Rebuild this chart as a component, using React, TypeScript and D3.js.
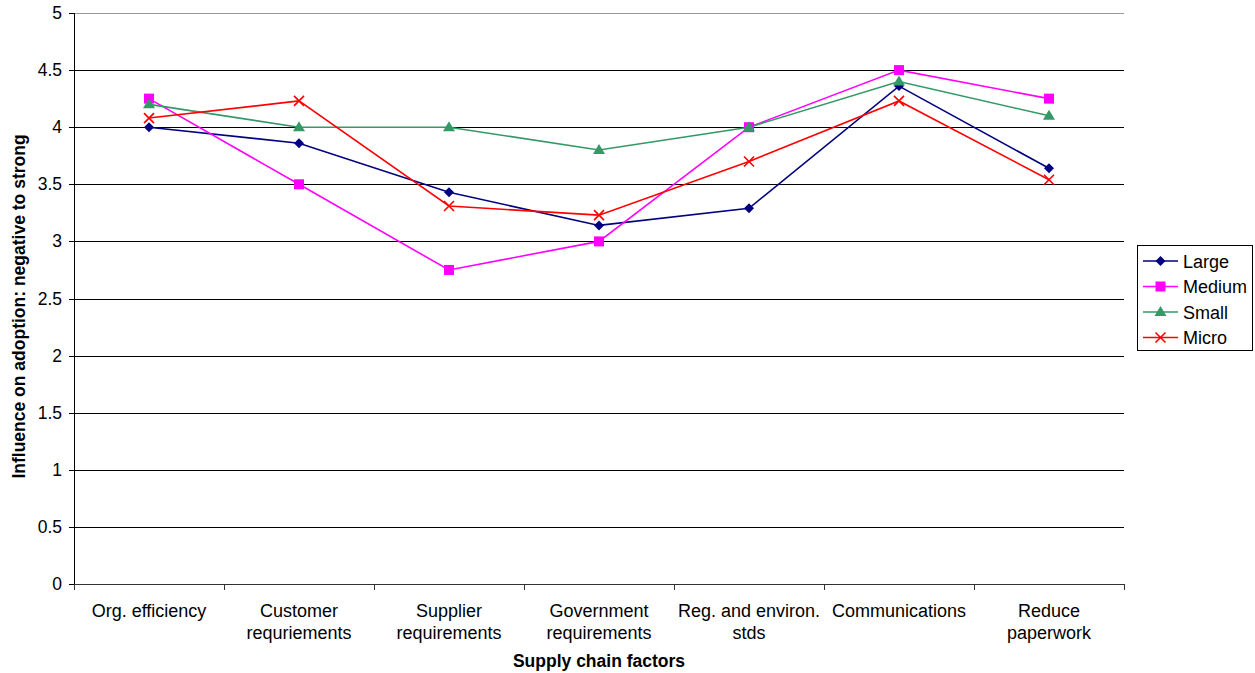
import React from "react";
import * as d3 from "d3";

const categories = [
  ["Org. efficiency"],
  ["Customer", "requriements"],
  ["Supplier", "requirements"],
  ["Government", "requirements"],
  ["Reg. and environ.", "stds"],
  ["Communications"],
  ["Reduce", "paperwork"],
];
const large = [4.0, 3.86, 3.43, 3.14, 3.29, 4.36, 3.64];
const medium = [4.25, 3.5, 2.75, 3.0, 4.0, 4.5, 4.25];
const small = [4.2, 4.0, 4.0, 3.8, 4.0, 4.4, 4.1];
const micro = [4.08, 4.23, 3.31, 3.23, 3.7, 4.23, 3.54];
const yTicks = [0, 0.5, 1, 1.5, 2, 2.5, 3, 3.5, 4, 4.5, 5];
const seriesNames = ["Large", "Medium", "Small", "Micro"];

const colors = ["#000080", "#FF00FF", "#339966", "#FF0000"];
const font = "Liberation Sans, Arial, sans-serif";

function Marker({ kind, x, y, color }: { kind: number; x: number; y: number; color: string }) {
  if (kind === 0) {
    const s = 5;
    return <path d={`M${x},${y - s}L${x + s},${y}L${x},${y + s}L${x - s},${y}Z`} fill={color} />;
  }
  if (kind === 1) {
    return <rect x={x - 5} y={y - 5} width={10} height={10} fill={color} />;
  }
  if (kind === 2) {
    return <path d={`M${x},${y - 6}L${x + 6},${y + 4}L${x - 6},${y + 4}Z`} fill={color} />;
  }
  const s = 5;
  return (
    <path
      d={`M${x - s},${y - s}L${x + s},${y + s}M${x - s},${y + s}L${x + s},${y - s}`}
      stroke={color}
      strokeWidth={1.6}
      fill="none"
    />
  );
}

export default function App() {
  const W = 1255,
    H = 673;
  const left = 74,
    right = 1124,
    top = 13,
    bottom = 584;
  const x = d3
    .scaleBand<number>()
    .domain(categories.map((_, i) => i))
    .range([left, right]);
  const y = d3.scaleLinear().domain([0, 5]).range([bottom, top]);
  const cx = (i: number) => (x(i) as number) + x.bandwidth() / 2;
  const all = [large, medium, small, micro];
  const line = d3
    .line<number>()
    .x((_, i) => cx(i))
    .y((d) => y(d));

  return (
    <svg
      width={W}
      height={H}
      style={{ position: "absolute", left: 0, top: 0, background: "#fff" }}
      fontFamily={font}
    >
      <rect x={0} y={0} width={W} height={H} fill="#fff" />
      {yTicks.map((t) => (
        <g key={t}>
          {t > 0 && (
            <line
              x1={left}
              x2={right}
              y1={Math.round(y(t)) + 0.5}
              y2={Math.round(y(t)) + 0.5}
              stroke={t === 5 ? "#999" : "#000"}
              strokeWidth={1}
            />
          )}
          <line
            x1={left - 5}
            x2={left}
            y1={Math.round(y(t)) + 0.5}
            y2={Math.round(y(t)) + 0.5}
            stroke="#000"
          />
          <text x={left - 12} y={y(t) + 6} textAnchor="end" fontSize={17.5} fill="#000">
            {t}
          </text>
        </g>
      ))}
      <line x1={left + 0.5} x2={left + 0.5} y1={top} y2={bottom} stroke="#000" />
      <line x1={left} x2={right} y1={bottom + 0.5} y2={bottom + 0.5} stroke="#333" />
      {categories.map((_, i) => (
        <line
          key={"t" + i}
          x1={Math.round(x(i) as number) + 0.5}
          x2={Math.round(x(i) as number) + 0.5}
          y1={bottom}
          y2={bottom + 6}
          stroke="#333"
        />
      ))}
      <line x1={right + 0.5} x2={right + 0.5} y1={bottom} y2={bottom + 6} stroke="#333" />
      {categories.map((lines, i) => (
        <text key={"c" + i} x={cx(i)} textAnchor="middle" fontSize={18} fill="#000">
          {lines.map((l, j) => (
            <tspan key={j} x={cx(i)} y={616.5 + j * 22}>
              {l}
            </tspan>
          ))}
        </text>
      ))}
      {all.map((s, k) => (
        <path key={"l" + k} d={line(s) || ""} fill="none" stroke={colors[k]} strokeWidth={1.6} />
      ))}
      {all.map((s, k) =>
        s.map((v, i) => <Marker key={k + "-" + i} kind={k} x={cx(i)} y={y(v)} color={colors[k]} />)
      )}
      <text x={599} y={667} textAnchor="middle" fontSize={17.5} fontWeight="bold" fill="#000">
        Supply chain factors
      </text>
      <text
        transform={`translate(25,${(top + bottom) / 2 + 8}) rotate(-90)`}
        textAnchor="middle"
        fontSize={17.5}
        fontWeight="bold"
        fill="#000"
      >
        Influence on adoption: negative to strong
      </text>
      <g>
        <rect x={1137.5} y={245.5} width={115} height={105} fill="#fff" stroke="#000" />
        {seriesNames.map((n, k) => {
          const ly = 261 + k * 25.5;
          return (
            <g key={n}>
              <line x1={1143} x2={1178} y1={ly} y2={ly} stroke={colors[k]} strokeWidth={1.6} />
              <Marker kind={k} x={1160.5} y={ly} color={colors[k]} />
              <text x={1183} y={ly + 6.5} fontSize={18} fill="#000">
                {n}
              </text>
            </g>
          );
        })}
      </g>
    </svg>
  );
}
